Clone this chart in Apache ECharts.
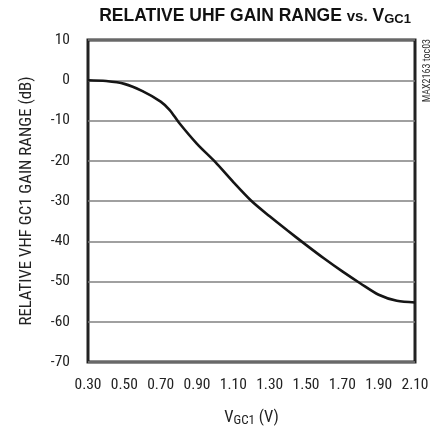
<!DOCTYPE html>
<html><head><meta charset="utf-8">
<script src="https://cdn.jsdelivr.net/npm/echarts@6/dist/echarts.min.js"></script>
<style>html,body{margin:0;padding:0;background:#fff}#c{width:445px;height:432px}</style>
</head><body><div id="c"></div>
<script>
var vgc1 = [0.30,0.40,0.50,0.60,0.70,0.75,0.80,0.90,1.00,1.10,1.20,1.30,1.40,1.50,1.60,1.70,1.80,1.90,2.00,2.10];
var gain = [0,-0.2,-0.9,-2.7,-5.3,-7.4,-10.5,-15.8,-20.3,-25.3,-30.0,-33.8,-37.4,-40.9,-44.3,-47.5,-50.5,-53.3,-54.8,-55.2];
var xTicks = [0.30,0.50,0.70,0.90,1.10,1.30,1.50,1.70,1.90,2.10];
var yMin = -70, yMax = 10, yStep = 10;

var font = '"Roboto Condensed","Liberation Sans Narrow","Liberation Sans",Arial,sans-serif';
var boldFont = '"Liberation Sans",Arial,sans-serif';
var chart = echarts.init(document.getElementById('c'), null, {renderer:'canvas'});
chart.setOption({
  animation:false,
  backgroundColor:'#fff',
  title:{
    text:'RELATIVE UHF GAIN RANGE {s|vs.} V{sub|GC1}',
    left:250, top:2, textAlign:'center',
    textStyle:{fontFamily:boldFont, fontWeight:'bold', fontSize:17.5, color:'#111',
      rich:{
        s:{fontFamily:boldFont, fontWeight:'bold', fontSize:15, color:'#111'},
        sub:{fontFamily:boldFont, fontWeight:'bold', fontSize:13, color:'#111', verticalAlign:'bottom', padding:[6,0,0,0]}
      }}
  },
  grid:{left:88, right:30, top:40, bottom:64, show:true, borderColor:'#222', borderWidth:3, containLabel:false},
  xAxis:{
    type:'value', min:0.3, max:2.1,
    axisLine:{show:false}, axisTick:{show:false}, splitLine:{show:false},
    axisLabel:{customValues:xTicks, formatter:function(v){return v.toFixed(2);}, margin:15,
      fontFamily:font, fontSize:15.5, color:'#222'},
    name:'V{sub|GC1} (V)', nameLocation:'middle', nameGap:46,
    nameTextStyle:{fontFamily:font, fontSize:16.5, color:'#222',
      rich:{sub:{fontFamily:font, fontSize:13, color:'#222', verticalAlign:'bottom', padding:[6,0,0,0]}}}
  },
  yAxis:{
    type:'value', min:yMin, max:yMax, interval:yStep,
    axisLine:{show:false}, axisTick:{show:false},
    splitLine:{show:true, lineStyle:{color:'#808080', width:1.5}},
    axisLabel:{margin:18, fontFamily:font, fontSize:15.5, color:'#222'},
    name:'RELATIVE VHF GC1 GAIN RANGE (dB)', nameLocation:'middle', nameGap:53, nameRotate:90,
    nameTextStyle:{fontFamily:font, fontSize:16.8, color:'#222'}
  },
  graphic:[{
    type:'text', left:422, top:39, rotation:Math.PI/2,
    style:{text:'MAX2163 toc03', fontFamily:font, fontSize:10, fill:'#333'}
  }],
  series:[{
    type:'line', data:vgc1.map(function(x,i){return [x,gain[i]];}),
    smooth:0.3, showSymbol:false, clip:false,
    lineStyle:{color:'#151515', width:2.6}
  }]
});
</script></body></html>
